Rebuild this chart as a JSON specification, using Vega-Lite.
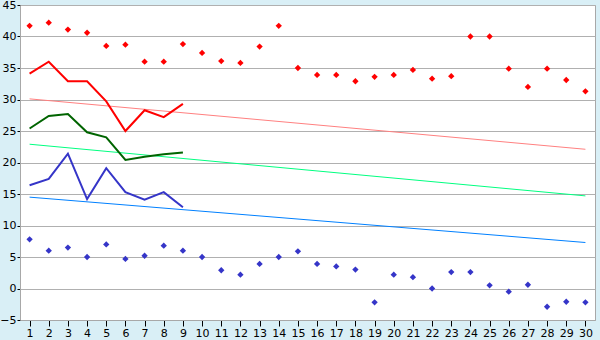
{
  "$schema": "https://vega.github.io/schema/vega-lite/v6.json",
  "width": 575,
  "height": 315,
  "autosize": {"type": "none"},
  "padding": {"left": 20, "top": 5, "right": 5, "bottom": 20},
  "background": "#D9EFF6",
  "config": {
    "view": {"fill": "white", "stroke": "#A8A8A8", "strokeWidth": 1},
    "axis": {
      "labelFont": "DejaVu Sans",
      "labelFontSize": 11,
      "labelColor": "black",
      "domainColor": "#A8A8A8",
      "tickColor": "black",
      "gridColor": "#B0B0B0",
      "labelOverlap": false,
      "labelFlush": false,
      "title": null
    }
  },
  "datasets": {
    "pts": [
      {"day": 1, "max": 41.7, "min": 7.8},
      {"day": 2, "max": 42.2, "min": 6.0},
      {"day": 3, "max": 41.1, "min": 6.5},
      {"day": 4, "max": 40.6, "min": 5.0},
      {"day": 5, "max": 38.5, "min": 7.0},
      {"day": 6, "max": 38.7, "min": 4.7},
      {"day": 7, "max": 36.0, "min": 5.2},
      {"day": 8, "max": 36.0, "min": 6.8},
      {"day": 9, "max": 38.8, "min": 6.0},
      {"day": 10, "max": 37.4, "min": 5.0},
      {"day": 11, "max": 36.1, "min": 2.9},
      {"day": 12, "max": 35.8, "min": 2.2},
      {"day": 13, "max": 38.4, "min": 3.9},
      {"day": 14, "max": 41.7, "min": 5.0},
      {"day": 15, "max": 35.0, "min": 5.9},
      {"day": 16, "max": 33.9, "min": 3.9},
      {"day": 17, "max": 33.9, "min": 3.5},
      {"day": 18, "max": 32.9, "min": 3.0},
      {"day": 19, "max": 33.6, "min": -2.2},
      {"day": 20, "max": 33.9, "min": 2.2},
      {"day": 21, "max": 34.7, "min": 1.8},
      {"day": 22, "max": 33.3, "min": 0.0},
      {"day": 23, "max": 33.7, "min": 2.6},
      {"day": 24, "max": 40.0, "min": 2.6},
      {"day": 25, "max": 40.0, "min": 0.5},
      {"day": 26, "max": 34.9, "min": -0.5},
      {"day": 27, "max": 32.0, "min": 0.6},
      {"day": 28, "max": 34.9, "min": -2.9},
      {"day": 29, "max": 33.1, "min": -2.1},
      {"day": 30, "max": 31.3, "min": -2.2}
    ],
    "lines": [
      {"day": 1, "hi": 34.1, "avg": 25.4, "lo": 16.4},
      {"day": 2, "hi": 36.0, "avg": 27.4, "lo": 17.4},
      {"day": 3, "hi": 32.9, "avg": 27.7, "lo": 21.4},
      {"day": 4, "hi": 32.9, "avg": 24.8, "lo": 14.2},
      {"day": 5, "hi": 29.7, "avg": 24.0, "lo": 19.1},
      {"day": 6, "hi": 25.0, "avg": 20.4, "lo": 15.3},
      {"day": 7, "hi": 28.3, "avg": 20.9, "lo": 14.1},
      {"day": 8, "hi": 27.2, "avg": 21.3, "lo": 15.3},
      {"day": 9, "hi": 29.3, "avg": 21.6, "lo": 12.9}
    ],
    "trend": [
      {"day": 1, "hi": 30.1, "avg": 22.9, "lo": 14.5},
      {"day": 30, "hi": 22.1, "avg": 14.7, "lo": 7.3}
    ]
  },
  "encoding": {
    "x": {
      "field": "day",
      "type": "quantitative",
      "scale": {"domain": [0.5, 30.5], "nice": false, "zero": false},
      "axis": {
        "values": [1,2,3,4,5,6,7,8,9,10,11,12,13,14,15,16,17,18,19,20,21,22,23,24,25,26,27,28,29,30],
        "grid": false,
        "tickSize": 6,
        "labelPadding": 1
      }
    }
  },
  "layer": [
    {
      "data": {"name": "trend"},
      "mark": {"type": "line", "color": "#FF8080", "strokeWidth": 1},
      "encoding": {"y": {"field": "hi", "type": "quantitative", "scale": {"domain": [-5, 45], "nice": false}, "axis": {"values": [-5,0,5,10,15,20,25,30,35,40,45], "tickSize": 3, "labelPadding": 1}}}
    },
    {
      "data": {"name": "trend"},
      "mark": {"type": "line", "color": "#00FF80", "strokeWidth": 1},
      "encoding": {"y": {"field": "avg", "type": "quantitative", "scale": {"domain": [-5, 45], "nice": false}, "axis": {"values": [-5,0,5,10,15,20,25,30,35,40,45], "tickSize": 3, "labelPadding": 1}}}
    },
    {
      "data": {"name": "trend"},
      "mark": {"type": "line", "color": "#0080FF", "strokeWidth": 1},
      "encoding": {"y": {"field": "lo", "type": "quantitative", "scale": {"domain": [-5, 45], "nice": false}, "axis": {"values": [-5,0,5,10,15,20,25,30,35,40,45], "tickSize": 3, "labelPadding": 1}}}
    },
    {
      "data": {"name": "lines"},
      "mark": {"type": "line", "color": "#FF0000", "strokeWidth": 2},
      "encoding": {"y": {"field": "hi", "type": "quantitative", "scale": {"domain": [-5, 45], "nice": false}, "axis": {"values": [-5,0,5,10,15,20,25,30,35,40,45], "tickSize": 3, "labelPadding": 1}}}
    },
    {
      "data": {"name": "lines"},
      "mark": {"type": "line", "color": "#006400", "strokeWidth": 2},
      "encoding": {"y": {"field": "avg", "type": "quantitative", "scale": {"domain": [-5, 45], "nice": false}, "axis": {"values": [-5,0,5,10,15,20,25,30,35,40,45], "tickSize": 3, "labelPadding": 1}}}
    },
    {
      "data": {"name": "lines"},
      "mark": {"type": "line", "color": "#3535C8", "strokeWidth": 2},
      "encoding": {"y": {"field": "lo", "type": "quantitative", "scale": {"domain": [-5, 45], "nice": false}, "axis": {"values": [-5,0,5,10,15,20,25,30,35,40,45], "tickSize": 3, "labelPadding": 1}}}
    },
    {
      "data": {"name": "pts"},
      "mark": {"type": "point", "shape": "diamond", "filled": true, "color": "#FF0000", "size": 40, "opacity": 1},
      "encoding": {"y": {"field": "max", "type": "quantitative", "scale": {"domain": [-5, 45], "nice": false}, "axis": {"values": [-5,0,5,10,15,20,25,30,35,40,45], "tickSize": 3, "labelPadding": 1}}}
    },
    {
      "data": {"name": "pts"},
      "mark": {"type": "point", "shape": "diamond", "filled": true, "color": "#3535C8", "size": 40, "opacity": 1},
      "encoding": {"y": {"field": "min", "type": "quantitative", "scale": {"domain": [-5, 45], "nice": false}, "axis": {"values": [-5,0,5,10,15,20,25,30,35,40,45], "tickSize": 3, "labelPadding": 1}}}
    }
  ]
}
